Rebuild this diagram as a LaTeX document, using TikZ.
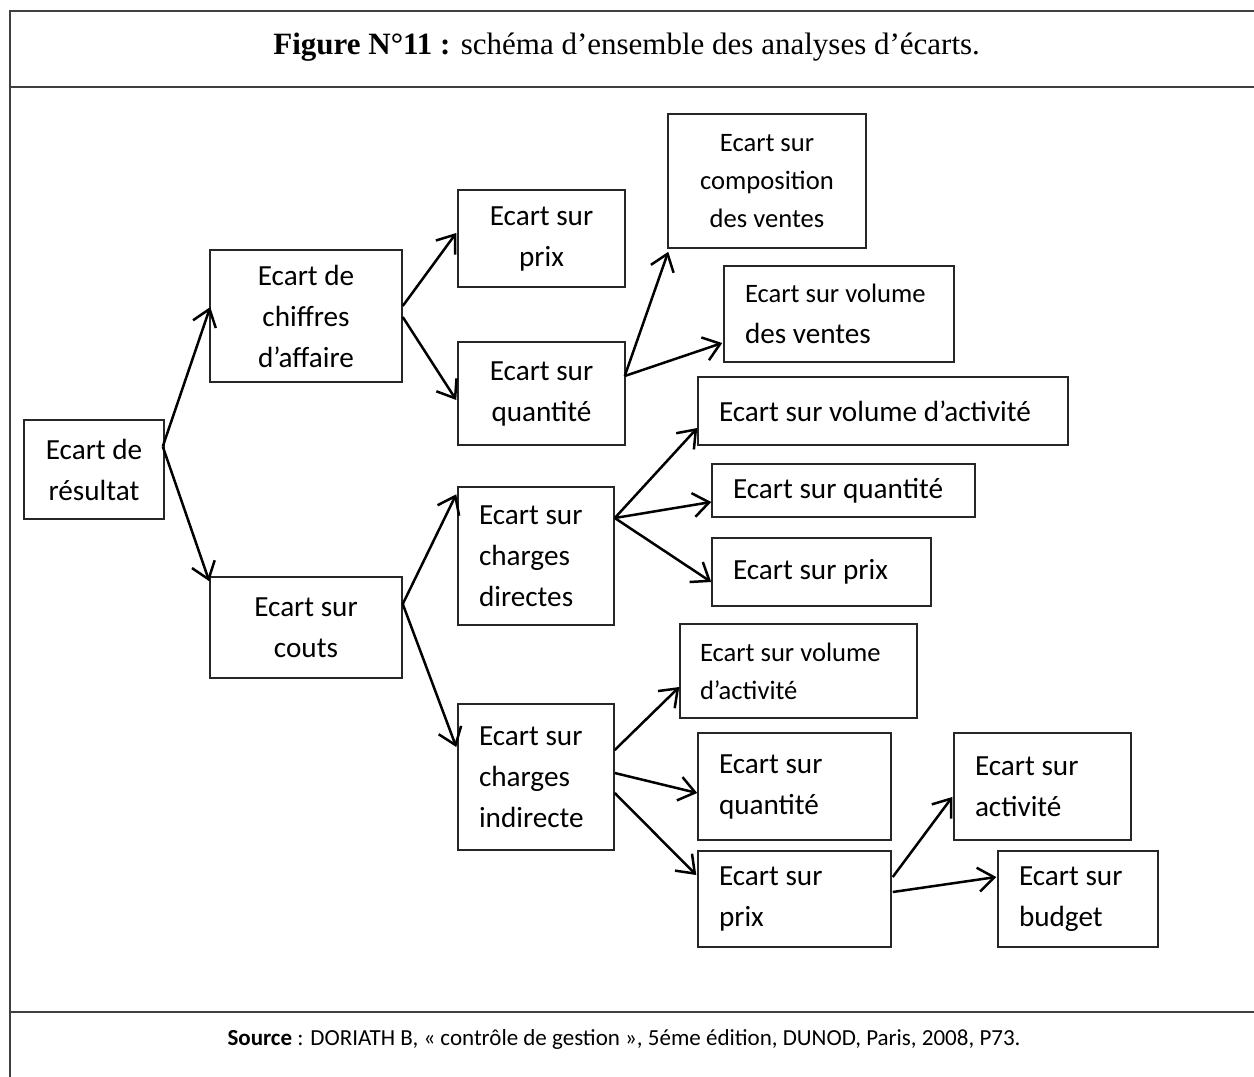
\documentclass[tikz,border=0pt]{standalone}
\usepackage{fontspec}
\setmainfont{Carlito}
\newfontfamily\titlefont{Liberation Serif}
\usetikzlibrary{arrows.meta}
\newcommand\txtA{\fontsize{14.6pt}{20.5pt}\selectfont}
\newcommand\txtB{\fontsize{13.3pt}{19pt}\selectfont}

\begin{document}
\begin{tikzpicture}[x=0.5pt,y=-0.5pt,
  box/.style={draw=black!85, line width=0.75pt, inner sep=0pt, font=\txtA, align=center},
  lbox/.style={box, align=flush left, inner xsep=10.5pt},
  link/.style={-{Straight Barb[length=8pt,width=12pt]}, line width=1.25pt},
  frameline/.style={line width=1pt, draw=black!75}]

% page area
\useasboundingbox (0,0) rectangle (1254,1077);

% table frame
\draw[frameline] (10,1077) -- (10,11) -- (1254,11);
\draw[frameline] (10,87) -- (1254,87);
\draw[frameline] (10,1012) -- (1254,1012);

% caption and source
\node[anchor=base west, inner sep=0pt, font=\titlefont\fontsize{15.5pt}{18pt}\selectfont] (title) at (273,54)
  {\textbf{Figure N°11 :} schéma d’ensemble des analyses d’écarts.};
\node[anchor=base, inner sep=0pt, font=\fontsize{11.5pt}{14pt}\selectfont] (src) at (624,1045)
  {\textbf{Source} : DORIATH B, « contrôle de gestion », 5éme édition, DUNOD, Paris, 2008, P73.};

% boxes
\node[box, minimum width=70pt, minimum height=49.5pt] (res) at (94,469.5) {Ecart de\\résultat};
\node[box, minimum width=96pt, minimum height=66pt] (caf) at (306,316) {Ecart de\\chiffres\\d’affaire};
\node[box, minimum width=96pt, minimum height=50.5pt] (couts) at (306,627.5) {Ecart sur\\couts};
\node[box, minimum width=83.5pt, minimum height=48.5pt] (prixA) at (541.5,238.5) {Ecart sur\\prix};
\node[box, minimum width=83.5pt, minimum height=51.5pt] (qteA) at (541.5,393.5) {Ecart sur\\quantité};
\node[box, font=\txtB, minimum width=99pt, minimum height=67pt] (compo) at (767,181) {Ecart sur\\composition\\des ventes};
\node[lbox, text width=94pt, minimum height=48pt] (volv) at (839,314) {{\txtB Ecart sur volume}\\des ventes};
\node[lbox, text width=164pt, minimum height=34pt] (volA) at (883,411) {Ecart sur volume d’activité};
\node[lbox, text width=110.5pt, minimum height=26.5pt] (qteB) at (843.5,490.5) {Ecart sur quantité};
\node[lbox, text width=88.5pt, minimum height=34pt] (prixB) at (821.5,572) {Ecart sur prix};
\node[lbox, text width=57pt, minimum height=69pt] (chd) at (536,556) {Ecart sur\\charges\\directes};
\node[lbox, font=\txtB, inner xsep=10pt, text width=98.5pt, minimum height=47pt] (volB) at (798.5,671) {Ecart sur volume\\d’activité};
\node[lbox, text width=57pt, minimum height=73pt] (chi) at (536,777) {Ecart sur\\charges\\indirecte};
\node[lbox, text width=75.5pt, minimum height=53.5pt] (qteC) at (794.5,786.5) {Ecart sur\\quantité};
\node[lbox, text width=75.5pt, minimum height=48pt] (prixC) at (794.5,899) {Ecart sur\\prix};
\node[lbox, text width=67.5pt, minimum height=53.5pt] (act) at (1042.5,786.5) {Ecart sur\\activité};
\node[lbox, text width=59pt, minimum height=48pt] (bud) at (1078,899) {Ecart sur\\budget};

% connectors
\draw[link] ([shift={(-2,-23)}]res.east) -- ([shift={(1,-9)}]caf.west);
\draw[link] ([shift={(-2,-23)}]res.east) -- ([shift={(0,5)}]couts.north west);
\draw[link] ([shift={(0,-10)}]caf.east) -- ([shift={(-1,-5.5)}]prixA.west);
\draw[link] ([shift={(0,1)}]caf.east) -- ([shift={(-1,6.5)}]qteA.west);
\draw[link] ([shift={(-1,-17.5)}]qteA.east) -- ([shift={(1,3)}]compo.south west);
\draw[link] ([shift={(-1,-17.5)}]qteA.east) -- ([shift={(-1,29)}]volv.west);
\draw[link] ([shift={(0,-23.5)}]couts.east) -- ([shift={(-1,8)}]chd.north west);
\draw[link] ([shift={(0,-23.5)}]couts.east) -- ([shift={(-1,-30)}]chi.west);
\draw[link] ([shift={(0,-38)}]chd.east) -- ([shift={(0,17)}]volA.west);
\draw[link] ([shift={(0,-38)}]chd.east) -- ([shift={(0,11.5)}]qteB.west);
\draw[link] ([shift={(0,-38)}]chd.east) -- ([shift={(0,10)}]prixB.west);
\draw[link] ([shift={(0,-27)}]chi.east) -- ([shift={(0,16)}]volB.west);
\draw[link] ([shift={(0,-4)}]chi.east) -- ([shift={(0,6.5)}]qteC.west);
\draw[link] ([shift={(0,16)}]chi.east) -- ([shift={(-1,-24)}]prixC.west);
\draw[link] ([shift={(1,-22)}]prixC.east) -- ([shift={(-1,10.5)}]act.west);
\draw[link] ([shift={(1,-7)}]prixC.east) -- ([shift={(-1,-22)}]bud.west);
\end{tikzpicture}
\end{document}
